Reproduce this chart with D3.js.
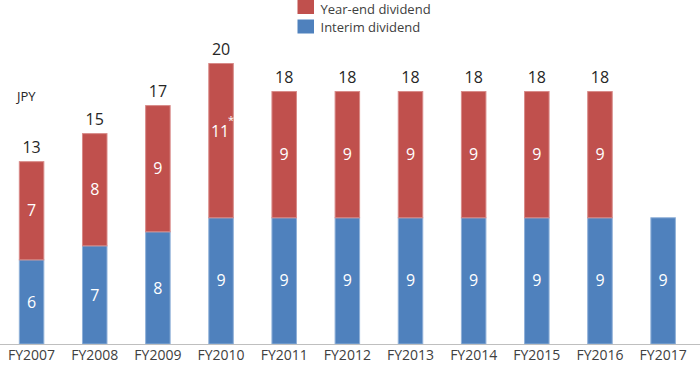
<!DOCTYPE html>
<html>
<head>
<meta charset="utf-8">
<script src="https://cdn.jsdelivr.net/npm/d3@7/dist/d3.min.js"></script>
<style>
  html, body { margin: 0; padding: 0; background: #fff; }
  svg { display: block; font-family: "Open Sans", "Noto Sans", sans-serif; }
</style>
</head>
<body>
<svg id="chart" width="700" height="372"></svg>
<script>
const categories = ["FY2007","FY2008","FY2009","FY2010","FY2011","FY2012","FY2013","FY2014","FY2015","FY2016","FY2017"];
const interim = [6, 7, 8, 9, 9, 9, 9, 9, 9, 9, 9];
const yearEnd = [7, 8, 9, 11, 9, 9, 9, 9, 9, 9, null];
const totals = [13, 15, 17, 20, 18, 18, 18, 18, 18, 18, null];
const yearEndLabels = ["7","8","9","11","9","9","9","9","9","9",null];
const footnoteIndex = [3];
const seriesNames = ["Year-end dividend", "Interim dividend"];
const unitLabel = "JPY";

const colors = { yearEnd: "#C0504D", interim: "#4F81BD" };
const strokes = { yearEnd: "#D88A88", interim: "#8FB0D8" };

const svg = d3.select("#chart");
const W = 700, H = 372;
const baseY = 344;

const x = d3.scaleBand().domain(categories).range([0, 694.7]).paddingInner(0.596).paddingOuter(0.298);
const y = d3.scaleLinear().domain([0, 20]).range([baseY, 63.5]);

const data = categories.map((c, i) => ({ c, i, interim: interim[i], yearEnd: yearEnd[i], total: totals[i] }));

// interim bars
svg.append("g").selectAll("rect").data(data).join("rect")
  .attr("x", d => x(d.c) + 0.5)
  .attr("y", d => y(d.interim))
  .attr("width", x.bandwidth() - 1)
  .attr("height", d => y(0) - y(d.interim))
  .attr("fill", colors.interim)
  .attr("stroke", strokes.interim)
  .attr("stroke-width", 1);

// year-end bars
svg.append("g").selectAll("rect").data(data.filter(d => d.yearEnd != null)).join("rect")
  .attr("x", d => x(d.c) + 0.5)
  .attr("y", d => y(d.interim + d.yearEnd))
  .attr("width", x.bandwidth() - 1)
  .attr("height", d => y(d.interim) - y(d.interim + d.yearEnd))
  .attr("fill", colors.yearEnd)
  .attr("stroke", strokes.yearEnd)
  .attr("stroke-width", 1);

// axis
const axis = svg.append("g").attr("transform", `translate(0,${baseY})`)
  .call(d3.axisBottom(x).tickSize(0).tickPadding(6));
axis.select(".domain").remove();
axis.selectAll("text").attr("font-size", 14).attr("fill", "#404040")
  .attr("font-family", "'Open Sans', sans-serif");
svg.append("line").attr("x1", 0).attr("x2", W).attr("y1", baseY + 0.5).attr("y2", baseY + 0.5)
  .attr("stroke", "#BFBFBF").attr("stroke-width", 1);

// interim labels
svg.append("g").selectAll("text").data(data).join("text")
  .attr("x", d => x(d.c) + x.bandwidth() / 2)
  .attr("y", d => (y(0) + y(d.interim)) / 2)
  .attr("dy", "0.35em")
  .attr("text-anchor", "middle")
  .attr("font-size", 16)
  .attr("fill", "#fff")
  .text(d => d.interim);

// year-end labels
svg.append("g").selectAll("text").data(data.filter(d => d.yearEnd != null)).join("text")
  .attr("x", d => footnoteIndex.includes(d.i) ? x(d.c) + x.bandwidth() / 2 - 1 : x(d.c) + x.bandwidth() / 2)
  .attr("y", d => footnoteIndex.includes(d.i) ? (y(d.interim) + y(d.total)) / 2 - 9 : (y(d.interim) + y(d.total)) / 2)
  .attr("dy", "0.35em")
  .attr("text-anchor", "middle")
  .attr("font-size", 16)
  .attr("fill", "#fff")
  .text(d => yearEndLabels[d.i]);

// footnote asterisk
svg.append("g").selectAll("text").data(data.filter(d => footnoteIndex.includes(d.i))).join("text")
  .attr("x", d => x(d.c) + x.bandwidth() / 2 + 10)
  .attr("y", d => (y(d.interim) + y(d.total)) / 2 - 20)
  .attr("dy", "0.35em")
  .attr("text-anchor", "middle")
  .attr("font-size", 11)
  .attr("fill", "#fff")
  .text("*");

// totals
svg.append("g").selectAll("text").data(data.filter(d => d.total != null)).join("text")
  .attr("x", d => x(d.c) + x.bandwidth() / 2)
  .attr("y", d => y(d.total) - 9)
  .attr("text-anchor", "middle")
  .attr("font-size", 16)
  .attr("fill", "#262626")
  .text(d => d.total);

// unit label
svg.append("text").attr("x", 17).attr("y", 101).attr("font-size", 13).attr("fill", "#262626").text(unitLabel);

// legend
const legend = svg.append("g");
const legendItems = [
  { name: seriesNames[0], color: colors.yearEnd, y: 0, ty: 9 },
  { name: seriesNames[1], color: colors.interim, y: 19.5, ty: 27 }
];
legend.selectAll("rect").data(legendItems).join("rect")
  .attr("x", 297.5).attr("y", d => d.y).attr("width", 16.5).attr("height", 14)
  .attr("fill", d => d.color);
legend.selectAll("text").data(legendItems).join("text")
  .attr("x", 320.5).attr("y", d => d.ty).attr("dy", "0.35em")
  .attr("font-size", 13).attr("fill", "#404040")
  .text(d => d.name);
</script>
</body>
</html>
